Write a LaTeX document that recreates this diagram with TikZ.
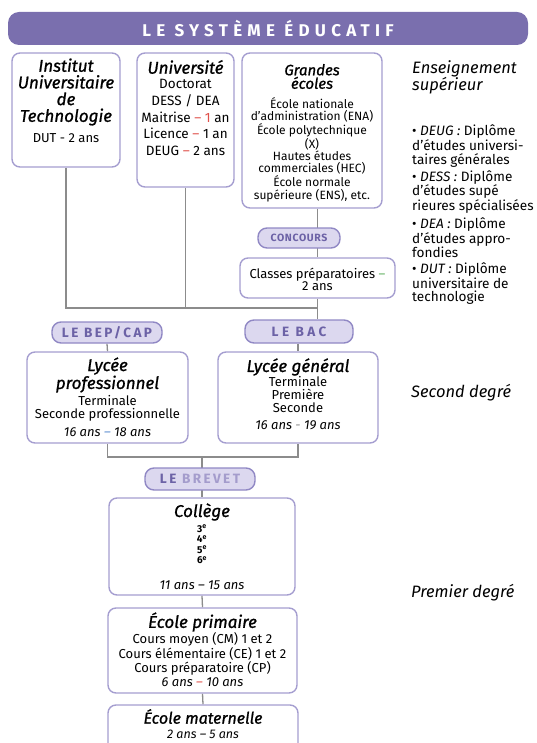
\documentclass[tikz,border=0pt]{standalone}
\usepackage{fontspec}
\setmainfont{Fira Sans}
\newfontfamily\headfamily[FakeBold=1]{Fira Sans}
\usetikzlibrary{positioning,backgrounds}
\definecolor{bandviolet}{HTML}{7A6FAE}
\definecolor{boxline}{HTML}{A59ED0}
\definecolor{pillfill}{HTML}{DCD8EF}
\definecolor{pillline}{HTML}{9088C4}
\definecolor{pilltext}{HTML}{6C62A6}
\definecolor{pillpale}{HTML}{A49CCC}
\definecolor{linkgray}{HTML}{8C8C8C}
\definecolor{dashred}{HTML}{E0504A}
\definecolor{dashblue}{HTML}{5A8CD0}
\definecolor{dashgreen}{HTML}{60B060}
\newcommand{\rdash}{\textcolor{dashred}{--}}

\begin{document}
\begin{tikzpicture}[x=1pt,y=-1pt,
  box/.style={draw=boxline,line width=1.4pt,rounded corners=8pt,fill=white,inner sep=0pt},
  pill/.style={draw=pillline,line width=1.4pt,rounded corners=9pt,fill=pillfill,inner sep=0pt,
    text=pilltext,font=\fontsize{13.5}{13.5}\selectfont\bfseries\addfontfeatures{LetterSpace=18}},
  head/.style={font=\fontsize{17}{16.7}\selectfont\headfamily\itshape,align=center},
  body/.style={font=\fontsize{13}{13}\selectfont,align=center},
  ages/.style={font=\fontsize{13}{13}\selectfont\itshape,align=center},
  side/.style={font=\fontsize{13.6}{13.5}\selectfont,align=left,anchor=west,inner sep=0pt},
  degree/.style={font=\fontsize{16.5}{17}\selectfont\itshape,align=left,anchor=west,inner sep=0pt},
  link/.style={draw=linkgray,line width=1.3pt}]
\clip (0,0) rectangle (537,743);

% title band
\node[fill=bandviolet,rounded corners=11pt,minimum width=520pt,minimum height=33pt,text=white,
  font=\fontsize{17}{17}\selectfont\bfseries\addfontfeatures{LetterSpace=31}] (titre) at (268,28.5) {LE SYSTÈME ÉDUCATIF};

% superieur
\node[box,minimum width=108pt,minimum height=114pt] (iut) at (66,110) {};
\node[head] at (66,92) {Institut\\Universitaire\\de\\Technologie};
\node[body] at (66,138) {DUT - 2 ans};

\node[box,minimum width=97pt,minimum height=134pt] (univ) at (185.5,120) {};
\node[head] at (185.5,67) {Université};
\node[body,font=\fontsize{13.5}{16.7}\selectfont] at (185.5,117.5) {Doctorat\\DESS / DEA\\Maitrise \rdash{} \textcolor{dashred}{1} an\\Licence \rdash{} 1 an\\DEUG \rdash{} 2 ans};

\node[box,minimum width=140pt,minimum height=155pt] (grandes) at (312,130.5) {};
\node[head,font=\fontsize{15}{13.5}\selectfont\headfamily\itshape] at (312,76.5) {Grandes\\écoles};
\node[body,font=\fontsize{12}{12.4}\selectfont] at (312,149.5) {École nationale\\d'administration (ENA)\\École polytechnique\\(X)\\Hautes études\\commerciales (HEC)\\École normale\\supérieure (ENS), etc.};

\node[pill,minimum width=82pt,minimum height=20pt,font=\fontsize{10.5}{10.5}\selectfont\bfseries\addfontfeatures{LetterSpace=6}] (concours) at (299,238) {CONCOURS};
\node[box,minimum width=155pt,minimum height=40pt] (prep) at (317.5,278) {};
\node[body,font=\fontsize{13}{11}\selectfont] at (317.5,279.5) {Classes préparatoires \textcolor{dashgreen}{--}\\2 ans};

% second degre
\coordinate (bus) at (0,308);
\node[pill,minimum width=110pt,minimum height=21pt] (bep) at (107,332.5) {LE BEP/CAP};
\node[pill,minimum width=108pt,minimum height=23pt,font=\fontsize{13.5}{13.5}\selectfont\bfseries\addfontfeatures{LetterSpace=25}] (bac) at (299,331.5) {LE BAC};

\node[box,minimum width=161pt,minimum height=91pt] (lpro) at (107.5,397.5) {};
\node[head] at (107.5,375) {Lycée\\professionnel};
\node[body] at (107.5,408.5) {Terminale\\Seconde professionnelle};
\node[ages] at (107.5,432) {16 ans \textcolor{dashblue}{--} 18 ans};

\node[box,minimum width=160pt,minimum height=91pt] (lgen) at (298,397.5) {};
\node[head] at (298,367) {Lycée général};
\node[body] at (298,395) {Terminale\\Première\\Seconde};
\node[ages] at (298,425) {16 ans \textcolor{linkgray}{-} 19 ans};

% premier degre
\coordinate (join) at (0,457);
\node[pill,minimum width=110pt,minimum height=22pt] (brevet) at (200,479) {LE \textcolor{pillpale}{BREVET}};

\node[box,minimum width=186pt,minimum height=97pt] (college) at (202,546.5) {};
\node[head] at (202,512) {Collège};
\node[body,font=\fontsize{10}{10.5}\selectfont\bfseries] at (202,544.5) {3\textsuperscript{e}\\4\textsuperscript{e}\\5\textsuperscript{e}\\6\textsuperscript{e}};
\node[ages] at (202,585) {11 ans -- 15 ans};

\node[box,minimum width=189pt,minimum height=85pt] (primaire) at (202.5,650.5) {};
\node[head] at (202.5,622) {École primaire};
\node[body,font=\fontsize{13}{12.2}\selectfont] at (202.5,654) {Cours moyen (CM) 1 et 2\\Cours élémentaire (CE) 1 et 2\\Cours préparatoire (CP)};
\node[ages] at (202.5,682) {6 ans \rdash{} 10 ans};

\node[box,minimum width=190pt,minimum height=60pt] (maternelle) at (203,735) {};
\node[head,font=\fontsize{16}{16}\selectfont\headfamily\itshape] at (203,716.5) {École maternelle};
\node[ages,font=\fontsize{12.5}{12.5}\selectfont\itshape] at (203,734.5) {2 ans -- 5 ans};

% right column
\node[degree] (sup) at (412,77.5) {Enseignement\\supérieur};
\node[side] (deug) at (412,146) {• \textit{DEUG :} Diplôme\\d'études universi-\\taires générales};
\node[side] (dess) at (412,192) {• \textit{DESS :} Diplôme\\d'études supé\\rieures spécialisées};
\node[side] (dea) at (412,238) {• \textit{DEA :} Diplôme\\d'études appro-\\fondies};
\node[side] (dut) at (412,284) {• \textit{DUT :} Diplôme\\universitaire de\\technologie};
\node[degree] (second) at (411,393) {Second degré};
\node[degree] (premier) at (411,593) {Premier degré};

% links
\begin{scope}[on background layer]
\draw[link] (iut.south) |- (prep.south |- bus);
\draw[link] (univ.south) -- (univ.south |- bus);
\draw[link] (grandes.south -| prep.south) -- (prep.north);
\draw[link] (prep.south) -- (prep.south |- bac.north);
\draw[link] (bep.south) -- (lpro.north);
\draw[link] (bac.south -| lgen.north) -- (lgen.north);
\draw[link] (lpro.south) |- (lgen.south |- join) -- (lgen.south);
\draw[link] (college.north |- join) -- (college.north);
\draw[link] (college.south) -- (primaire.north);
\draw[link] (primaire.south) -- (maternelle.north);
\end{scope}
\end{tikzpicture}
\end{document}
